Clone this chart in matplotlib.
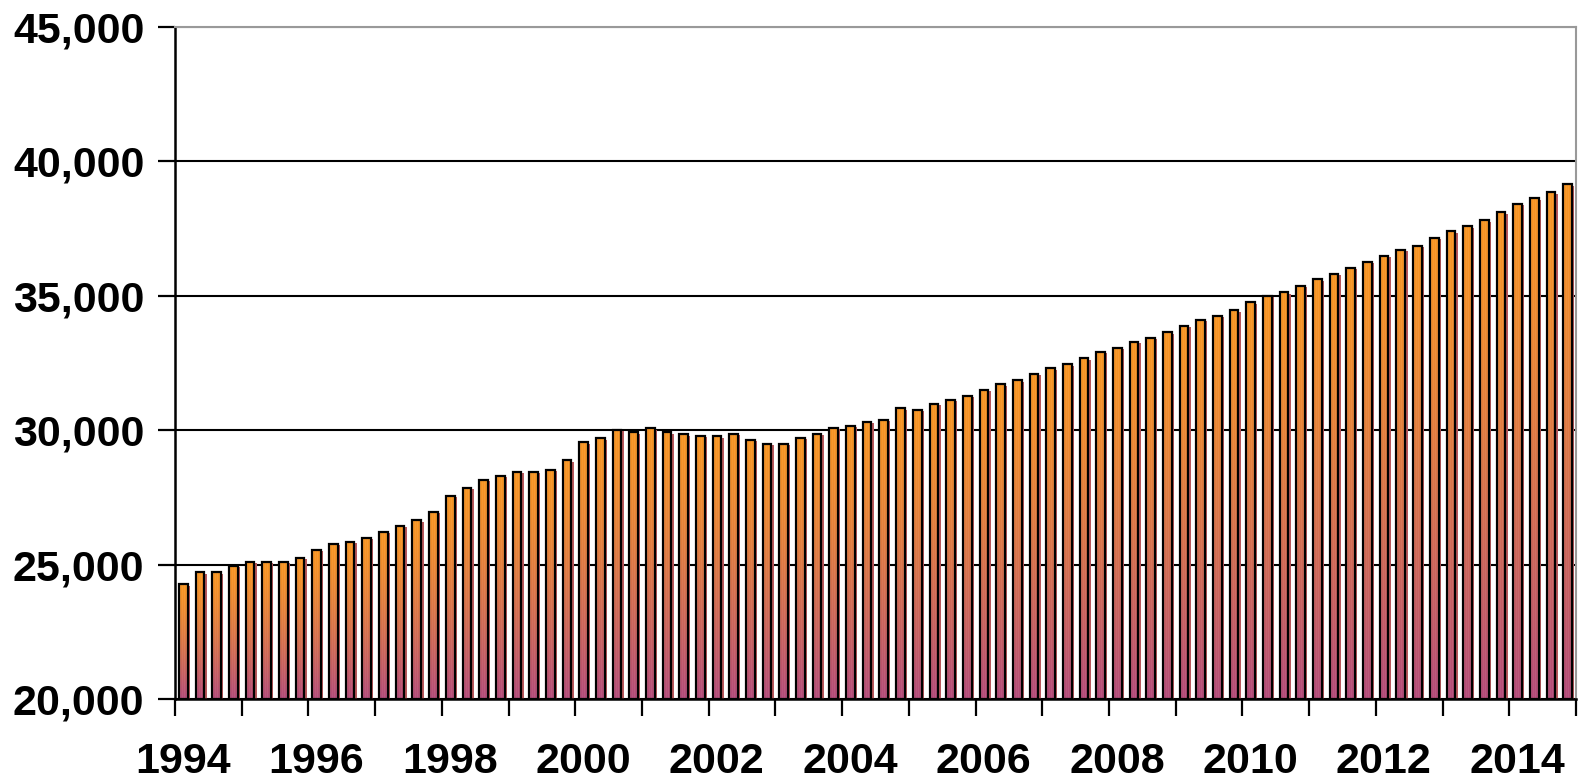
import matplotlib
matplotlib.use("Agg")
import matplotlib.pyplot as plt
import matplotlib.transforms as mtransforms
import numpy as np
from matplotlib.ticker import FuncFormatter

# quarterly values, 1994 Q1 .. 2014 Q4
values = [
    # 1994-1997
    24270, 24720, 24720, 24950, 25100, 25100, 25100, 25250,
    25550, 25780, 25850, 26000, 26220, 26440, 26660, 26970,
    # 1998-2001
    27560, 27860, 28150, 28300, 28450, 28450, 28520, 28890,
    29550, 29700, 30010, 29930, 30070, 29930, 29850, 29790,
    # 2002-2005
    29780, 29860, 29640, 29490, 29490, 29710, 29860, 30090,
    30160, 30310, 30380, 30820, 30760, 30980, 31130, 31280,
    # 2006-2009
    31500, 31710, 31860, 32090, 32310, 32460, 32680, 32910,
    33060, 33280, 33430, 33650, 33880, 34100, 34250, 34460,
    # 2010-2014
    34760, 35000, 35130, 35370, 35600, 35810, 36040, 36260,
    36480, 36710, 36860, 37150, 37390, 37590, 37810, 38110,
    38420, 38630, 38850, 39150,
]
start_year = 1994
end_year = 2015
y_ticks = [20000, 25000, 30000, 35000, 40000, 45000]
label_years = list(range(1994, 2015, 2))

TOP = np.array([0.97, 0.58, 0.13])
BOTTOM = np.array([0.70, 0.29, 0.47])

# vertical gradient with faint vertical stripes, like the Excel fill
n_rows, n_cols = 64, 9
t = (np.linspace(0, 1, n_rows) ** 1.3)[:, None, None]
grad = np.repeat(TOP * (1 - t) + BOTTOM * t, n_cols, axis=1)
stripe = np.array([0.0, 0.12, 0.0, 0.10, 0.02, 0.12, 0.0, 0.10, 0.0])[None, :, None]
bar_img = np.clip(grad + stripe * (1 - grad) * 0.6, 0, 1)

fig = plt.figure(figsize=(15.78, 7.79), dpi=100)
ax = fig.add_axes([0.1109, 0.1027, 0.8878, 0.863])

base = y_ticks[0]
width = 0.13
x = start_year + (np.arange(len(values)) + 0.5) / 4

# drop shadow
ax.bar(x + 0.035, np.array(values) - base - 60, bottom=base, width=width,
       color="#b8585c", edgecolor="none", zorder=2)

bars = ax.bar(x, np.array(values) - base, bottom=base, width=width,
              facecolor="none", edgecolor="black", linewidth=1.6, zorder=4)
for rect in bars:
    x0 = rect.get_x()
    im = ax.imshow(bar_img, extent=[x0, x0 + width, base, base + rect.get_height()],
                   aspect="auto", interpolation="bilinear", zorder=3)
    im.set_clip_path(rect)

ax.set_xlim(start_year, end_year)
ax.set_ylim(y_ticks[0], y_ticks[-1])
ax.set_aspect("auto")

ax.set_yticks(y_ticks)
ax.yaxis.set_major_formatter(FuncFormatter(lambda v, p: f"{int(v):,}"))
ax.set_xticks(range(start_year, end_year + 1))
ax.set_xticklabels([str(y) if y in label_years else "" for y in range(start_year, end_year + 1)])

ax.tick_params(axis="both", direction="out", length=12, width=1.6, color="black",
               labelsize=31)
ax.tick_params(axis="y", pad=10)
ax.tick_params(axis="x", pad=19)
for lab in ax.get_xticklabels() + ax.get_yticklabels():
    lab.set_fontfamily("Liberation Sans")
    lab.set_fontweight("bold")
offset = mtransforms.ScaledTranslation(8 / 100, 0, fig.dpi_scale_trans)
for lab in ax.get_xticklabels():
    lab.set_transform(lab.get_transform() + offset)

ax.yaxis.grid(True, color="black", linewidth=1.5, zorder=1)
ax.set_axisbelow(True)
ax.get_ygridlines()[-1].set_color("#888888")

for side in ["left", "bottom"]:
    ax.spines[side].set_linewidth(1.8)
    ax.spines[side].set_color("black")
for side in ["top", "right"]:
    ax.spines[side].set_linewidth(1.5)
    ax.spines[side].set_color("#999999")

fig.savefig("out.png", dpi=100)
